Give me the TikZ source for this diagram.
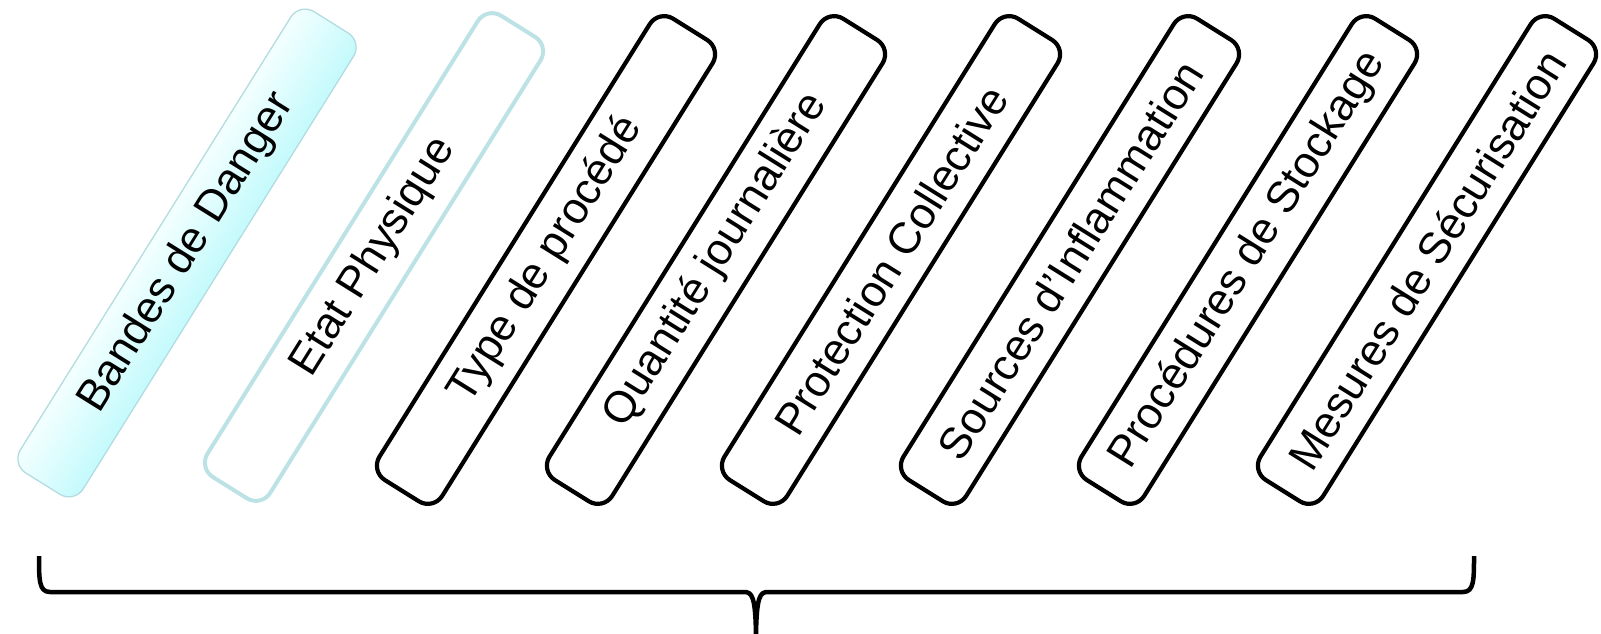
\documentclass[tikz,border=0pt]{standalone}
\usepackage{fontspec}
\setmainfont{Liberation Sans}
\definecolor{cyanlight}{HTML}{F4FFFF}
\definecolor{cyandark}{HTML}{C4FAFC}
\definecolor{edgeone}{HTML}{B3DCE0}
\definecolor{edgetwo}{HTML}{BCE2E6}
\tikzset{
  slab/.style={rectangle, rounded corners=17pt, minimum width=544pt, minimum height=74pt,
    rotate=58, inner sep=0pt, text=black, font=\fontsize{44}{50}\selectfont},
  slabblack/.style={slab, draw=black, line width=4.2pt},
  slabone/.style={slab, draw=edgeone, line width=1.3pt},
  slabtwo/.style={slab, draw=edgetwo, line width=4pt},
  bracestyle/.style={draw=black, line width=4.5pt, line join=round}
}
\begin{document}
\begin{tikzpicture}[x=1pt,y=-1pt]
\useasboundingbox (0,0) rectangle (1601,634);
\begin{scope}[transform canvas={shift={(187,253)}, rotate=58}]
  \shade[top color=cyanlight, bottom color=cyandark, rounded corners=17pt]
    (-272,-37) rectangle (272,37);
\end{scope}
\node[slabone]   (b1) at (187,253) {Bandes de Danger};
\node[slabtwo]   (b2) at (374,257) {Etat Physique};
\node[slabblack] (b3) at (546,260) {Type de procédé};
\node[slabblack] (b4) at (716,260) {Quantité journalière};
\node[slabblack] (b5) at (891,260) {Protection Collective};
\node[slabblack] (b6) at (1070,260) {Sources d’Inflammation};
\node[slabblack] (b7) at (1248,260) {Procédures de Stockage};
\node[slabblack] (b8) at (1427,260) {Mesures de Sécurisation};
\coordinate (bl) at (39,556);
\coordinate (bc) at (756,636);
\coordinate (br) at (1474,556);
\draw[bracestyle] (bl) .. controls (39,580) and (39,592) .. (50,592) -- (744,592)
  .. controls (752,592) and (755.5,596) .. (bc)
  .. controls (756.5,596) and (760,592) .. (768,592) -- (1463,592)
  .. controls (1474,592) and (1474,580) .. (br);
\end{tikzpicture}
\end{document}
